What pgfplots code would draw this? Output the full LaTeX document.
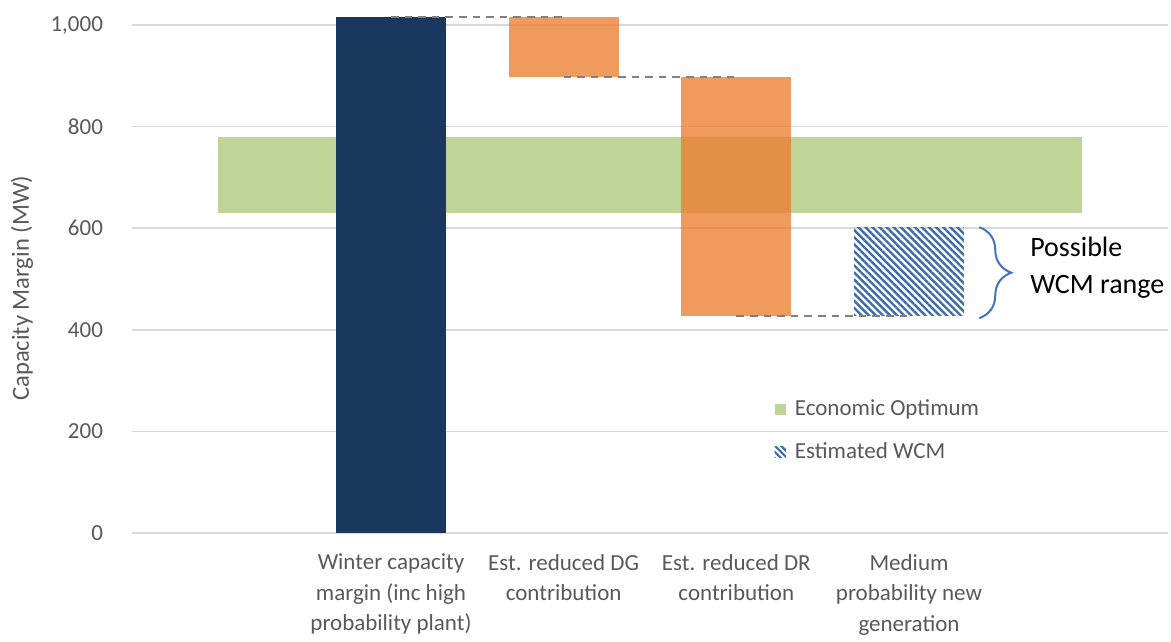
\documentclass[border=0pt]{standalone}
\usepackage{fontspec}
\setmainfont{Carlito}
\usepackage{pgfplots}
\pgfplotsset{compat=1.18}
\usetikzlibrary{patterns.meta,decorations.pathreplacing}
\definecolor{navy}{HTML}{1A375E}
\definecolor{orng}{HTML}{ED7D31}
\definecolor{grn}{HTML}{C1D497}
\definecolor{hatch}{HTML}{3E6DA8}
\definecolor{txt}{HTML}{595959}
\definecolor{gridc}{HTML}{D9D9D9}
\definecolor{dashc}{HTML}{808080}
\definecolor{bracec}{HTML}{4472C4}
\begin{document}
\begin{tikzpicture}
\begin{axis}[
  scale only axis, width=518pt, height=261.6pt,
  xmin=-0.5, xmax=5.5, ymin=0, ymax=1030,
  clip=false,
  axis x line=bottom, axis y line=left, axis line style={draw=none,-},
  ytick={0,200,...,1000}, xtick={1,2,3,4},
  xticklabels={{Winter capacity\\margin (inc high\\probability plant)},
               {Est. reduced DG\\contribution},
               {Est. reduced DR\\contribution},
               {Medium\\probability new\\generation}},
  major tick length=0,
  ymajorgrids, grid style={gridc, line width=0.75pt},
  /pgf/number format/assume math mode=true,
  /pgf/number format/1000 sep={,},
  yticklabel style={font=\fontsize{11.5}{13}\selectfont, text=txt, xshift=-11pt},
  xticklabel style={font=\fontsize{11.5}{15.25}\selectfont, text=txt, align=center, yshift=-7pt},
  every axis y label/.style={at={(axis description cs:-0.1062,0.468)}, rotate=90, anchor=center, font=\fontsize{12.3}{14}\selectfont, text=txt},
  ylabel={Capacity Margin (MW)},
  legend style={draw=none, fill=none, at={(axis cs:3.22,201)}, anchor=west,
    font=\fontsize{11.5}{13}\selectfont, text=txt, row sep=8pt, inner sep=0pt,
    nodes={inner xsep=4.5pt}},
  legend cell align=left,
]
\coordinate (O) at (rel axis cs:0,0);
% Economic optimum band
\addplot[fill=grn, draw=none,
  legend image code/.code={\fill[grn] (0pt,-2.8pt) rectangle (5.6pt,2.8pt);}]
  coordinates {(0,630) (5,630) (5,780) (0,780)} -- cycle;
\addlegendentry{Economic Optimum}
% Winter capacity margin
\addplot[fill=navy, draw=none, forget plot]
  coordinates {(0.682,0) (1.318,0) (1.318,1015) (0.682,1015)} -- cycle;
% Est. reduced DG contribution
\addplot[fill=orng, fill opacity=0.78, draw=none, forget plot]
  coordinates {(1.682,897) (2.318,897) (2.318,1015) (1.682,1015)} -- cycle;
% Est. reduced DR contribution
\addplot[fill=orng, fill opacity=0.78, draw=none, forget plot]
  coordinates {(2.682,428) (3.318,428) (3.318,897) (2.682,897)} -- cycle;
% Estimated WCM
\addplot[draw=none, pattern={Lines[angle=-45,distance=2.5pt,line width=1.2pt]}, pattern color=hatch,
  legend image code/.code={\path[pattern={Lines[angle=-45,distance=2.2pt,line width=1.1pt]}, pattern color=hatch] (0pt,-2.8pt) rectangle (5.6pt,2.8pt);}]
  coordinates {(3.682,428) (4.318,428) (4.318,602) (3.682,602)} -- cycle;
\addlegendentry{Estimated WCM}
% connectors
\addplot[dashc, line width=1pt, dash pattern=on 3.8pt off 3pt, forget plot] coordinates {(1,1015) (2,1015)};
\addplot[dashc, line width=1pt, dash pattern=on 3.8pt off 3pt, forget plot] coordinates {(2,897) (3,897)};
\addplot[dashc, line width=1pt, dash pattern=on 3.8pt off 3pt, forget plot] coordinates {(3,428) (4,428)};
% brace and annotation
\draw[bracec, line width=1pt, decorate, decoration={brace, amplitude=16pt, aspect=0.5}]
  (axis cs:4.407,602) -- (axis cs:4.407,423);
\node[anchor=west, align=left, font=\fontsize{14}{18.5}\selectfont, inner sep=0pt]
  at (axis cs:4.70,522) {Possible\\WCM range};
\end{axis}
\path (O) ++(-66pt,-49.5pt) rectangle ++(585.5pt,316pt);
\end{tikzpicture}
\end{document}
